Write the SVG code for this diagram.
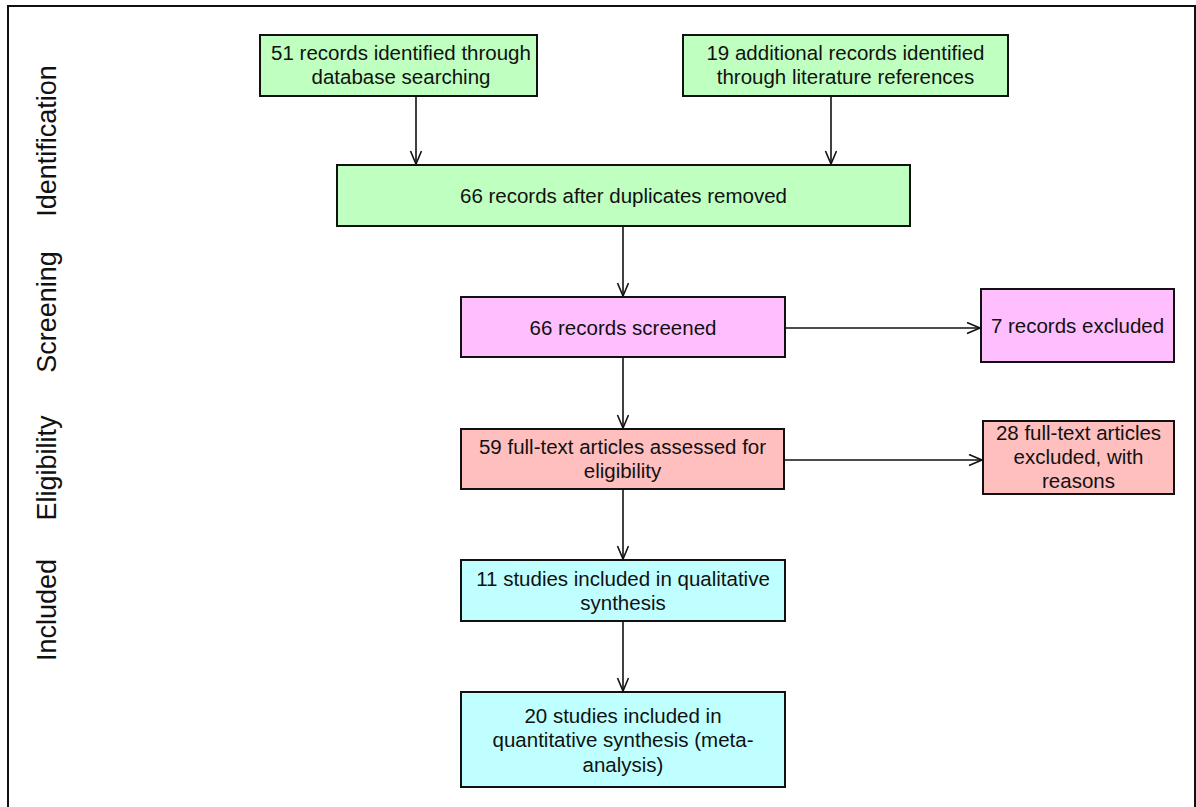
<svg xmlns="http://www.w3.org/2000/svg" width="1196" height="807" viewBox="0 0 1196 807">
  <defs>
    <marker id="arrow" markerUnits="userSpaceOnUse" markerWidth="16" markerHeight="14" refX="14" refY="6" orient="auto">
      <path d="M1,0.5 L14,6 L1,11.5" fill="none" stroke="#111" stroke-width="1.6"/>
    </marker>
    <style>
      .box { stroke: #111; stroke-width: 2; }
      .green { fill: #bfffbf; }
      .pink { fill: #ffbfff; }
      .salmon { fill: #ffbfbf; }
      .cyan { fill: #bfffff; }
      .t { font-family: "Liberation Sans", Arial, Helvetica, sans-serif; font-size: 20.5px; fill: #111; text-anchor: middle; }
      .stage { font-family: "Liberation Sans", Arial, Helvetica, sans-serif; font-size: 27px; fill: #111; text-anchor: middle; }
      .conn line { stroke: #111; stroke-width: 1.6; marker-end: url(#arrow); }
    </style>
  </defs>

  <rect width="1196" height="807" fill="#ffffff"/>
  <!-- outer frame (open at the bottom edge of the page) -->
  <rect x="8" y="6" width="1187" height="830" fill="none" stroke="#111" stroke-width="2"/>

  <!-- stage labels -->
  <g id="stages">
    <text class="stage" transform="translate(56,141) rotate(-90)">Identification</text>
    <text class="stage" transform="translate(56,312) rotate(-90)">Screening</text>
    <text class="stage" transform="translate(56,468) rotate(-90)">Eligibility</text>
    <text class="stage" transform="translate(56,610) rotate(-90)">Included</text>
  </g>

  <!-- connectors -->
  <g id="connectors" class="conn">
    <line x1="416" y1="96" x2="416" y2="164"/>
    <line x1="831" y1="96" x2="831" y2="164"/>
    <line x1="623" y1="226" x2="623" y2="296"/>
    <line x1="785" y1="328" x2="980" y2="328"/>
    <line x1="623" y1="357" x2="623" y2="428"/>
    <line x1="784" y1="460" x2="982" y2="460"/>
    <line x1="623" y1="489" x2="623" y2="559"/>
    <line x1="623" y1="621" x2="623" y2="691"/>
  </g>

  <g id="db-search">
    <rect class="box green" x="260" y="35" width="277" height="61"/>
    <text class="t" x="401" y="60">51 records identified through</text>
    <text class="t" x="401" y="84">database searching</text>
  </g>

  <g id="lit-refs">
    <rect class="box green" x="683" y="35" width="325" height="61"/>
    <text class="t" x="845.5" y="60">19 additional records identified</text>
    <text class="t" x="845.5" y="84">through literature references</text>
  </g>

  <g id="deduplicated">
    <rect class="box green" x="337" y="165" width="573" height="61"/>
    <text class="t" x="623.5" y="203">66 records after duplicates removed</text>
  </g>

  <g id="screened">
    <rect class="box pink" x="461" y="297" width="324" height="60"/>
    <text class="t" x="623" y="334.5">66 records screened</text>
  </g>

  <g id="excluded-records">
    <rect class="box pink" x="981" y="289" width="193" height="73"/>
    <text class="t" x="1077.5" y="333">7 records excluded</text>
  </g>

  <g id="full-text">
    <rect class="box salmon" x="461" y="429" width="323" height="60"/>
    <text class="t" x="622.5" y="454">59 full-text articles assessed for</text>
    <text class="t" x="622.5" y="477.5">eligibility</text>
  </g>

  <g id="excluded-articles">
    <rect class="box salmon" x="983" y="421" width="191" height="73"/>
    <text class="t" x="1078.5" y="440">28 full-text articles</text>
    <text class="t" x="1078.5" y="464">excluded, with</text>
    <text class="t" x="1078.5" y="488">reasons</text>
  </g>

  <g id="qualitative">
    <rect class="box cyan" x="461" y="560" width="324" height="61"/>
    <text class="t" x="623" y="586">11 studies included in qualitative</text>
    <text class="t" x="623" y="610">synthesis</text>
  </g>

  <g id="quantitative">
    <rect class="box cyan" x="461" y="692" width="324" height="95"/>
    <text class="t" x="623" y="722.5">20 studies included in</text>
    <text class="t" x="623" y="747">quantitative synthesis (meta-</text>
    <text class="t" x="623" y="771.5">analysis)</text>
  </g>
</svg>
